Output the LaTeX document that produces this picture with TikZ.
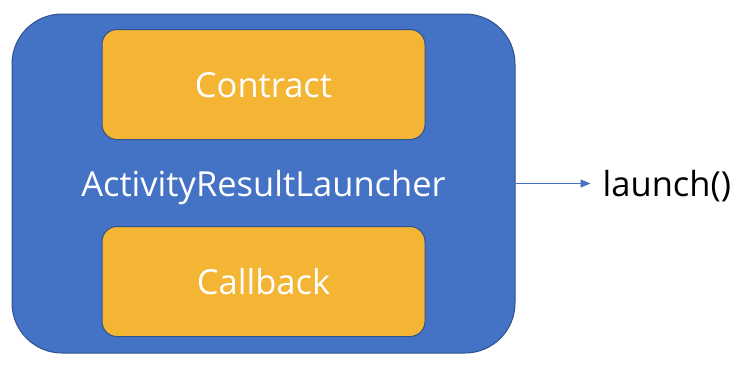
\documentclass[tikz,border=0pt]{standalone}
\usepackage{fontspec}
\setmainfont{Open Sans}
\usepackage{xcolor}
\usetikzlibrary{shapes,arrows.meta,positioning}

\definecolor{launcherblue}{RGB}{68,114,196}
\definecolor{edgeblue}{RGB}{47,82,143}
\definecolor{partorange}{RGB}{244,180,52}

\begin{document}
\begin{tikzpicture}[x=1pt, y=-1pt, node distance=43pt,
  label text/.style={font=\fontsize{34.5}{38}\selectfont, text height=25pt, text depth=0pt},
  launcher/.style={rectangle, rounded corners=50pt, minimum width=503pt, minimum height=339pt, text centered, draw=edgeblue, line width=1pt, fill=launcherblue, text=white, label text},
  part/.style={rectangle, rounded corners=15pt, minimum width=323pt, minimum height=110pt, text centered, draw=edgeblue, line width=1pt, fill=partorange, text=white, label text},
  arrow/.style={line width=0.8pt, draw=launcherblue, -{Triangle[length=10pt,width=8pt]}}]

  \useasboundingbox (0,0) rectangle (743,370);

  \node (launcher) [launcher] at (263.5,183.5) {ActivityResultLauncher};
  \node (contract) [part, above=43.5pt of launcher.center] {Contract};
  \node (callback) [part, below=42.5pt of launcher.center] {Callback};
  \node (launch) [right=75pt of launcher.east, anchor=west, inner xsep=12pt, inner ysep=0pt, label text] {launch()};

  \draw [arrow] (launcher) -- (launch);
\end{tikzpicture}
\end{document}
